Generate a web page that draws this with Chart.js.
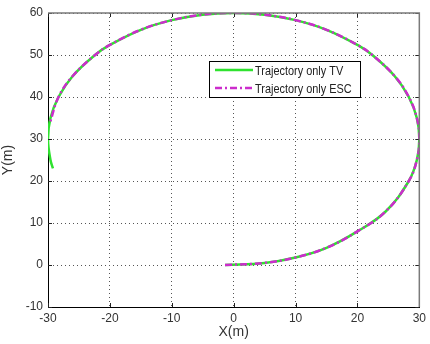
<!DOCTYPE html>
<html>
<head>
<meta charset="utf-8">
<script src="https://cdn.jsdelivr.net/npm/chart.js@4/dist/chart.umd.min.js"></script>
<style>
  html, body { margin: 0; padding: 0; background: #fff; }
  #wrap { width: 430px; height: 344px; }
</style>
</head>
<body>
<div id="wrap"><canvas id="traj" width="430" height="344"></canvas></div>
<script>
// values
const tvX = [-1.4, 5, 10, 15, 20, 24.6, 28.3, 29.6, 30, 29.6, 28.3, 26, 22.4, 20, 15, 10, 5, 0, -5, -10, -15, -20, -22.4, -26, -28.3, -29.6, -30, -29.6, -29.2];
const tvY = [0, 0.5, 1.8, 4.1, 8, 12.8, 20, 25, 30, 35, 40, 45, 50, 52.4, 56, 58.3, 59.6, 60, 59.6, 58.3, 56, 52.4, 50, 45, 40, 35, 30, 25, 23];
const escX = [-1.4, 5, 10, 15, 20, 24.6, 28.3, 29.6, 30, 29.6, 28.3, 26, 22.4, 20, 15, 10, 5, 0, -5, -10, -15, -20, -22.4, -26, -28.3, -29.7];
const escY = [0, 0.5, 1.8, 4.1, 8, 12.8, 20, 25, 30, 35, 40, 45, 50, 52.4, 56, 58.3, 59.6, 60, 59.6, 58.3, 56, 52.4, 50, 45, 40, 33.8];
const xTicks = [-30, -20, -10, 0, 10, 20, 30];
const yTicks = [-10, 0, 10, 20, 30, 40, 50, 60];
const seriesNames = ['Trajectory only TV', 'Trajectory only ESC'];

const FONT = '"Liberation Sans", Arial, sans-serif';

function toPoints(xs, ys) {
    return xs.map((x, i) => ({ x: x, y: ys[i] }));
}

// MATLAB style box: gray top/right edges and small inward ticks
const boxFrame = {
    id: 'boxFrame',
    afterDatasetsDraw(chart) {
        const { ctx, chartArea: a, scales } = chart;
        ctx.save();
        ctx.strokeStyle = '#222';
        ctx.lineWidth = 1;
        ctx.beginPath();
        xTicks.forEach((v) => {
            const px = Math.round(scales.x.getPixelForValue(v)) + 0.5;
            ctx.moveTo(px, a.bottom);
            ctx.lineTo(px, a.bottom - 4);
            ctx.moveTo(px, a.top);
            ctx.lineTo(px, a.top + 4);
        });
        yTicks.forEach((v) => {
            const py = Math.round(scales.y.getPixelForValue(v)) + 0.5;
            ctx.moveTo(a.left, py);
            ctx.lineTo(a.left + 4, py);
            ctx.moveTo(a.right, py);
            ctx.lineTo(a.right - 4, py);
        });
        ctx.stroke();
        ctx.strokeStyle = '#7a7a7a';
        ctx.lineWidth = 1.5;
        ctx.beginPath();
        ctx.moveTo(a.left, a.top);
        ctx.lineTo(a.right, a.top);
        ctx.lineTo(a.right, a.bottom);
        ctx.stroke();
        ctx.restore();
    }
};

// legend box inside the axes, upper right
const boxLegend = {
    id: 'boxLegend',
    afterDraw(chart) {
        const { ctx } = chart;
        const left = 209, top = 61, w = 151, h = 36;
        ctx.save();
        ctx.fillStyle = '#fff';
        ctx.fillRect(left, top, w, h);
        ctx.strokeStyle = '#000';
        ctx.lineWidth = 1;
        ctx.strokeRect(left + 0.5, top + 0.5, w, h);
        ctx.textBaseline = 'middle';
        chart.data.datasets.forEach((ds, i) => {
            const y = top + 9 + i * 18;
            ctx.strokeStyle = ds.borderColor;
            ctx.lineWidth = ds.borderWidth;
            ctx.setLineDash(ds.borderDash || []);
            ctx.beginPath();
            ctx.moveTo(left + 6, y);
            ctx.lineTo(left + 44, y);
            ctx.stroke();
            ctx.setLineDash([]);
            // narrow text like the original
            ctx.save();
            ctx.translate(left + 46, y + 1);
            ctx.scale(0.84, 1);
            ctx.font = '13px ' + FONT;
            ctx.fillStyle = '#222';
            ctx.fillText(ds.label, 0, 0);
            ctx.restore();
        });
        ctx.restore();
    }
};

new Chart(document.getElementById('traj'), {
    type: 'line',
    data: {
        datasets: [
            {
                label: seriesNames[0],
                data: toPoints(tvX, tvY),
                borderColor: '#2fe22f',
                borderWidth: 2.5,
                borderJoinStyle: 'round',
                pointRadius: 0,
                fill: false,
                tension: 0.4,
                capBezierPoints: false,
                order: 1,
            },
            {
                label: seriesNames[1],
                data: toPoints(escX, escY),
                borderColor: '#cc2ccc',
                borderWidth: 2.5,
                borderJoinStyle: 'round',
                borderDash: [7, 3, 2, 3],
                pointRadius: 0,
                fill: false,
                tension: 0.4,
                capBezierPoints: false,
                order: 0,
            },
        ],
    },
    options: {
        responsive: false,
        animation: false,
        events: [],
        layout: { padding: { left: 0, right: 7, top: 13, bottom: 0 } },
        plugins: { legend: { display: false }, tooltip: { enabled: false } },
        scales: {
            x: {
                type: 'linear',
                min: -30,
                max: 30,
                afterBuildTicks: (scale) => { scale.ticks = xTicks.map((v) => ({ value: v })); },
                afterFit: (scale) => { scale.height = 37; },
                grid: { color: '#555', lineWidth: 1, drawTicks: false },
                border: { display: true, color: '#000', width: 1, dash: [1, 3] },
                ticks: { color: '#333', padding: 4, maxRotation: 0, font: { family: FONT, size: 12 } },
                title: { display: true, text: 'X(m)', color: '#333', padding: { top: 3, bottom: 3 }, font: { family: FONT, size: 14 } },
            },
            y: {
                type: 'linear',
                min: -10,
                max: 60,
                afterBuildTicks: (scale) => { scale.ticks = yTicks.map((v) => ({ value: v })); },
                afterFit: (scale) => { scale.width = 48; },
                grid: { color: '#555', lineWidth: 1, drawTicks: false },
                border: { display: true, color: '#000', width: 1, dash: [1, 3] },
                ticks: { color: '#333', padding: 5, font: { family: FONT, size: 12 } },
                title: { display: true, text: 'Y(m)', color: '#333', padding: { top: 0, bottom: 0 }, font: { family: FONT, size: 14 } },
            },
        },
    },
    plugins: [boxFrame, boxLegend],
});
</script>
</body>
</html>
